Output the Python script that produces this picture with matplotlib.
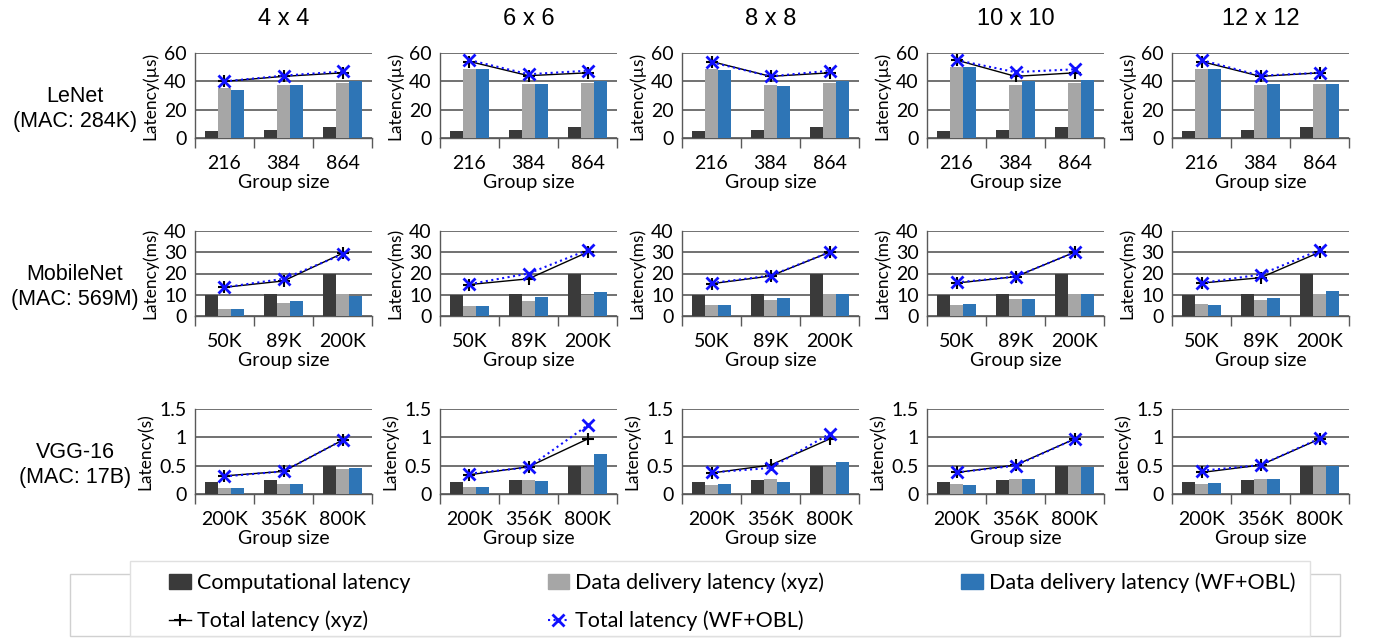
import matplotlib
matplotlib.use('Agg')
import matplotlib.pyplot as plt
from matplotlib.patches import Patch, Rectangle
from matplotlib.lines import Line2D
import numpy as np

mesh_sizes = ['4 x 4', '6 x 6', '8 x 8', '10 x 10', '12 x 12']
model_names = ['LeNet\n(MAC: 284K)', 'MobileNet\n(MAC: 569M)', 'VGG-16\n(MAC: 17B)']
group_sizes = [['216', '384', '864'], ['50K', '89K', '200K'], ['200K', '356K', '800K']]
y_labels = ['Latency(µs)', 'Latency(ms)', 'Latency(s)']
y_max = [60, 40, 1.5]
y_step = [20, 10, 0.5]

# LeNet (us), one row per mesh size
lenet_comp = [[5, 6, 7.5], [5, 6, 7.5], [5, 6, 7.5], [5, 6, 7.5], [5, 6, 7.5]]
lenet_xyz = [[35, 37.5, 38.5], [48.5, 38, 38.5], [48.5, 37.5, 38.5], [50, 37.5, 38.5], [48.5, 37.5, 38]]
lenet_wf = [[34, 37.5, 40], [49, 38, 40], [48, 37, 40], [50, 40, 41], [49, 38, 38]]
lenet_tot_xyz = [[40, 43.5, 46], [54, 44, 46], [54, 43.5, 46], [55, 43.5, 46], [54, 43.5, 46]]
lenet_tot_wf = [[40, 44, 47], [55, 45, 47.5], [53.5, 43.5, 47.5], [55, 46.5, 48.5], [55, 44, 46]]

# MobileNet (ms)
mobile_comp = [[10, 10.5, 20], [10, 10.5, 20], [10, 10.5, 20], [10, 10.5, 20], [10, 10.5, 20]]
mobile_xyz = [[3.3, 6, 10.3], [4.5, 7, 10], [5, 7.5, 10.3], [5.2, 8, 10.3], [5.5, 7.5, 10.3]]
mobile_wf = [[3.3, 7, 9.3], [4.7, 8.8, 11.2], [5, 8.3, 10.3], [5.5, 8, 10.3], [5, 8.5, 11.7]]
mobile_tot_xyz = [[13.5, 16.5, 29.5], [14.8, 17.5, 30], [15.2, 18.8, 30], [15.5, 18.5, 30], [15.5, 18, 30]]
mobile_tot_wf = [[13.5, 17.5, 29], [15, 20, 31], [15.5, 19, 30], [15.8, 18.5, 30], [15.5, 19.5, 31]]

# VGG-16 (s)
vgg_comp = [[0.21, 0.24, 0.5], [0.21, 0.24, 0.5], [0.21, 0.24, 0.5], [0.21, 0.24, 0.5], [0.21, 0.24, 0.5]]
vgg_xyz = [[0.11, 0.17, 0.45], [0.13, 0.25, 0.48], [0.16, 0.27, 0.48], [0.18, 0.27, 0.47], [0.17, 0.27, 0.47]]
vgg_wf = [[0.10, 0.17, 0.46], [0.13, 0.23, 0.71], [0.17, 0.22, 0.57], [0.16, 0.27, 0.47], [0.20, 0.27, 0.50]]
vgg_tot_xyz = [[0.32, 0.40, 0.95], [0.34, 0.48, 0.97], [0.37, 0.51, 0.97], [0.38, 0.51, 0.97], [0.38, 0.51, 0.97]]
vgg_tot_wf = [[0.31, 0.40, 0.95], [0.36, 0.47, 1.21], [0.38, 0.46, 1.06], [0.38, 0.50, 0.97], [0.41, 0.51, 0.98]]

models = [
    (lenet_comp, lenet_xyz, lenet_wf, lenet_tot_xyz, lenet_tot_wf),
    (mobile_comp, mobile_xyz, mobile_wf, mobile_tot_xyz, mobile_tot_wf),
    (vgg_comp, vgg_xyz, vgg_wf, vgg_tot_xyz, vgg_tot_wf),
]

c_comp = '#3a3a3a'
c_xyz = '#a6a6a6'
c_wf = '#2e75b6'
c_line_wf = '#1010ff'

W, H = 1395, 639
fig = plt.figure(figsize=(W / 100, H / 100), dpi=100)

tick_font = 'Lato'
title_font = 'Liberation Sans'

col_left = [195, 440, 682, 927, 1172]
row_top = [53, 231, 409]
ax_w, ax_h = 177, 85

x = np.arange(3)
bw = 0.22

for r in range(3):
    comp, xyz, wf, tot_xyz, tot_wf = models[r]
    for c in range(5):
        ax = fig.add_axes([col_left[c] / W, 1 - (row_top[r] + ax_h) / H, ax_w / W, ax_h / H])
        ax.bar(x - bw, comp[c], bw, color=c_comp, zorder=3)
        ax.bar(x, xyz[c], bw, color=c_xyz, zorder=3)
        ax.bar(x + bw, wf[c], bw, color=c_wf, zorder=3)
        ax.plot(x, tot_xyz[c], color='black', lw=1, marker='+', ms=9, mew=1.5, zorder=4)
        ax.plot(x, tot_wf[c], color=c_line_wf, lw=1.5, ls=':', marker='x', ms=8, mew=2, zorder=5)

        ax.set_xlim(-0.5, 2.5)
        ax.set_ylim(0, y_max[r])
        ax.set_yticks(np.arange(0, y_max[r] + y_step[r] / 2, y_step[r]))
        ax.set_yticklabels(['%g' % v for v in ax.get_yticks()], fontfamily=tick_font, fontsize=14)
        ax.set_xticks(x)
        ax.set_xticklabels(group_sizes[r], fontfamily=tick_font, fontsize=14)
        ax.set_xticks([-0.5, 0.5, 1.5, 2.5], minor=True)
        ax.tick_params(axis='x', which='major', length=0, pad=12)
        ax.tick_params(axis='x', which='minor', length=7, width=1, color='#595959', direction='out')
        ax.tick_params(axis='y', length=0, pad=6)
        ax.yaxis.grid(True, color='#595959', lw=1.2, zorder=0)
        ax.set_axisbelow(True)
        for s in ['top', 'right']:
            ax.spines[s].set_visible(False)
        for s in ['left', 'bottom']:
            ax.spines[s].set_color('#595959')
            ax.spines[s].set_linewidth(1)
        ax.set_xlabel('Group size', fontfamily=tick_font, fontsize=14, labelpad=2)
        ax.set_ylabel(y_labels[r], fontfamily=tick_font, fontsize=12.5, labelpad=4)
        if r == 0:
            ax.set_title(mesh_sizes[c], fontfamily=title_font, fontsize=17, pad=20)

    fig.text(75 / W, 1 - (row_top[r] + 56) / H, model_names[r], ha='center', va='center',
             fontfamily=title_font, fontsize=15.5, linespacing=1.2)

# legend frame
fig.patches.append(Rectangle((70 / W, 1 - 636 / H), 1270 / W, 62 / H, transform=fig.transFigure,
                             fill=False, edgecolor='#d0d0d0', lw=1))
fig.patches.append(Rectangle((130 / W, 1 - 636 / H), 1180 / W, 75 / H, transform=fig.transFigure,
                             facecolor='white', edgecolor='#e0e0e0', lw=1))

handles = [
    Patch(color=c_comp),
    Line2D([], [], color='black', lw=1, marker='+', ms=9, mew=1.5),
    Patch(color=c_xyz),
    Line2D([], [], color=c_line_wf, lw=1.5, ls=':', marker='x', ms=8, mew=2),
    Patch(color=c_wf),
]
labels = ['Computational latency', 'Total latency (xyz)', 'Data delivery latency (xyz)',
          'Total latency (WF+OBL)', 'Data delivery latency (WF+OBL)']
fig.legend(handles, labels, loc='center', mode='expand', ncol=3, frameon=False,
           bbox_to_anchor=(150 / W, 1 - 602 / H, 1165 / W, 0),
           prop={'family': tick_font, 'size': 15.5}, handlelength=1.0, handletextpad=0.3,
           labelspacing=0.8)

fig.savefig('out.png', dpi=100)
